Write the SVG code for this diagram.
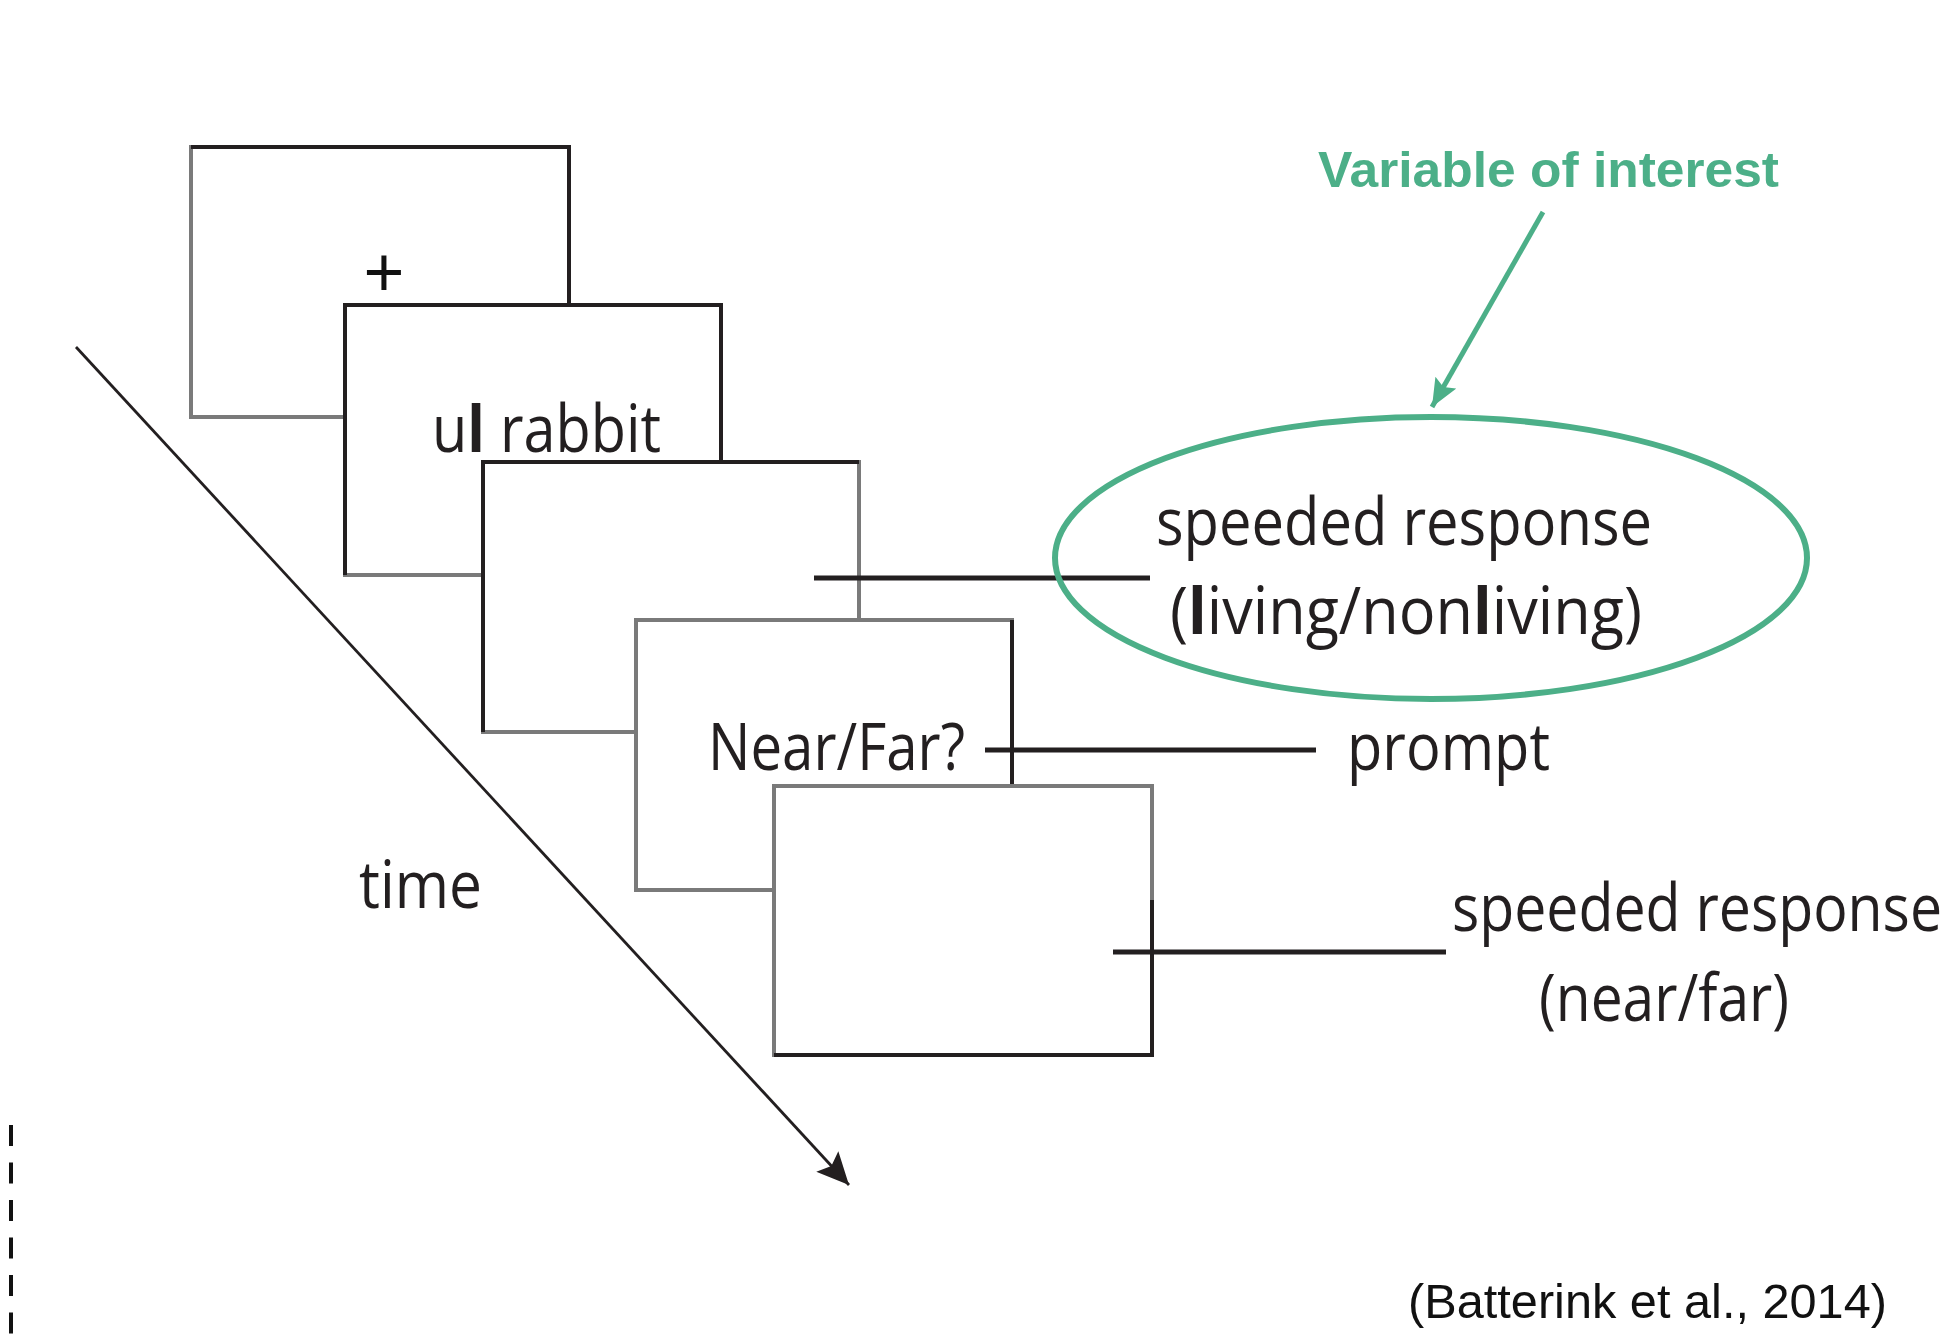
<svg xmlns="http://www.w3.org/2000/svg" width="1958" height="1335" viewBox="0 0 1958 1335">
<style>
.scr{fill:#fff;stroke:#7a7a7a;stroke-width:4}
.edge{fill:none;stroke:#231f20;stroke-width:4}
.lbl{font-family:"Open Sans","Noto Sans","Liberation Sans",sans-serif;font-size:65px;fill:#231f20}
.b{font-weight:bold}
.lead{stroke:#231f20;stroke-width:5;fill:none}
.cal{font-family:"Liberation Sans","Noto Sans",sans-serif}
.blk{fill:#111}
.grn{fill:#4caf88}
</style>
<defs>
<marker id="blk" markerUnits="userSpaceOnUse" markerWidth="34" markerHeight="34" refX="32" refY="15" orient="auto">
<path d="M0,0 L32,15 L0,30 L6,15 z" fill="#231f20"/>
</marker>
<marker id="grn" markerUnits="userSpaceOnUse" markerWidth="30" markerHeight="26" refX="28" refY="12" orient="auto">
<path d="M0,0 L28,12 L0,24 L5,12 z" fill="#4caf88"/>
</marker>
</defs>
<rect width="1958" height="1335" fill="#fff"/>

<g id="connectors">
<line x1="76" y1="347" x2="849" y2="1185" stroke="#231f20" stroke-width="2.8" marker-end="url(#blk)"/>
<line x1="11" y1="1125" x2="11" y2="1335" stroke="#111" stroke-width="4" stroke-dasharray="21 16.5"/>
<line x1="1543" y1="212" x2="1432" y2="407" stroke="#4caf88" stroke-width="5" marker-end="url(#grn)"/>
</g>

<g id="screen1">
<rect class="scr" x="191" y="147" width="378" height="270"/>
<path class="edge" d="M191,147 H569 V417"/>
<text class="cal blk" x="384" y="296" font-size="70" text-anchor="middle">+</text>
</g>

<g id="screen2">
<rect class="scr" x="345" y="305" width="376" height="270"/>
<path class="edge" d="M345,575 V305 H721 V575"/>
<text class="lbl" x="432" y="452" textLength="229" lengthAdjust="spacingAndGlyphs">u<tspan class="b">l</tspan> rabbit</text>
</g>

<g id="screen3">
<rect class="scr" x="483" y="462" width="376" height="270"/>
<path class="edge" d="M483,732 V462 H859"/>
</g>

<g id="screen4">
<rect class="scr" x="636" y="620" width="376" height="270"/>
<path class="edge" d="M1012,620 V890"/>
<text class="lbl" x="708" y="770" textLength="257" lengthAdjust="spacingAndGlyphs">Near/Far?</text>
</g>

<g id="screen5">
<rect class="scr" x="774" y="786" width="378" height="269"/>
<path class="edge" d="M774,1055 H1152 V900"/>
</g>

<g id="leaders">
<line class="lead" x1="814" y1="578" x2="1150" y2="578"/>
<line class="lead" x1="985" y1="750" x2="1316" y2="750"/>
<line class="lead" x1="1113" y1="952" x2="1446" y2="952"/>
</g>

<g id="response1">
<ellipse cx="1431" cy="558" rx="376" ry="141" fill="none" stroke="#4caf88" stroke-width="6"/>
<text class="lbl" x="1156" y="545" textLength="496" lengthAdjust="spacingAndGlyphs">speeded response</text>
<text class="lbl" x="1170" y="634" textLength="472" lengthAdjust="spacingAndGlyphs">(<tspan class="b">l</tspan>iving/non<tspan class="b">l</tspan>iving)</text>
</g>

<g id="prompt">
<text class="lbl" x="1347" y="770" textLength="203" lengthAdjust="spacingAndGlyphs">prompt</text>
</g>

<g id="response2">
<text class="lbl" x="1452" y="931" textLength="490" lengthAdjust="spacingAndGlyphs">speeded response</text>
<text class="lbl" x="1539" y="1021" textLength="250" lengthAdjust="spacingAndGlyphs">(near/far)</text>
</g>

<g id="time">
<text class="lbl" x="359" y="908" textLength="123" lengthAdjust="spacingAndGlyphs">time</text>
</g>

<g id="variable">
<text class="cal grn" x="1318" y="187" font-size="50" font-weight="bold" textLength="461" lengthAdjust="spacingAndGlyphs">Variable of interest</text>
</g>

<g id="citation">
<text class="cal blk" x="1408" y="1318" font-size="49" textLength="479" lengthAdjust="spacingAndGlyphs">(Batterink et al., 2014)</text>
</g>
</svg>
